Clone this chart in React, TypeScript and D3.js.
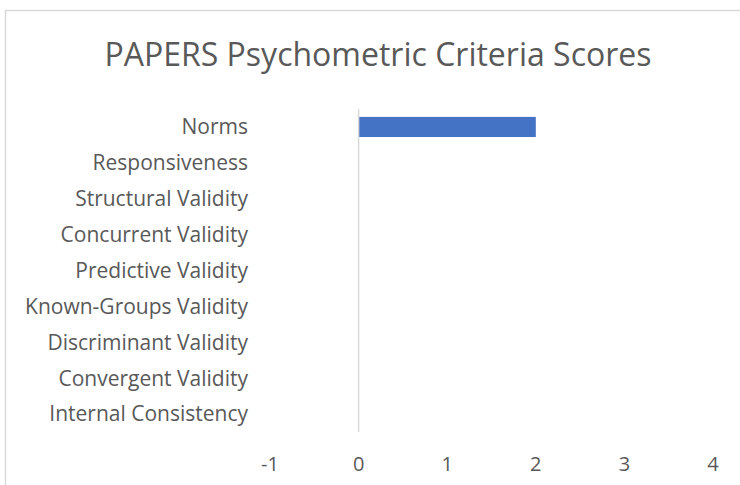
import React from 'react'
import * as d3 from 'd3'

const categories = [
	'Norms',
	'Responsiveness',
	'Structural Validity',
	'Concurrent Validity',
	'Predictive Validity',
	'Known-Groups Validity',
	'Discriminant Validity',
	'Convergent Validity',
	'Internal Consistency',
]
const scores = [2, 0, 0, 0, 0, 0, 0, 0, 0]
const xTicks = [-1, 0, 1, 2, 3, 4]

const W = 740
const H = 485
const font = '"Open Sans", sans-serif'

const App = () => {
	const x = d3.scaleLinear().domain([-1, 4]).range([270, 713])
	const y = d3.scaleBand().domain(categories).range([109, 432]).paddingInner(0.44).paddingOuter(0.22)

	return (
		<svg width={W} height={H} style={{ position: 'absolute', left: 0, top: 0 }}>
			<rect x={0} y={0} width={W} height={H} fill='#fff' />
			<path d={`M5.5,${H} V10.5 H${W}`} fill='none' stroke='#d9d9d9' strokeWidth={1.5} />
			<text x={378} y={66} textAnchor='middle' fontFamily={font} fontSize={32} fill='#595959'>
				PAPERS Psychometric Criteria Scores
			</text>
			{categories.map((c, i) => (
				<rect
					key={c}
					x={x(Math.min(0, scores[i]))}
					y={y(c)}
					width={Math.abs(x(scores[i]) - x(0))}
					height={y.bandwidth()}
					fill='#4472c4'
				/>
			))}
			<line x1={x(0)} x2={x(0)} y1={109} y2={432} stroke='#d9d9d9' strokeWidth={1.5} />
			{categories.map(c => (
				<text
					key={c}
					x={248}
					y={y(c) + y.bandwidth() / 2}
					dy='0.35em'
					textAnchor='end'
					fontFamily={font}
					fontSize={21}
					fill='#595959'
				>
					{c}
				</text>
			))}
			{xTicks.map(t => (
				<text key={t} x={x(t)} y={471} textAnchor='middle' fontFamily={font} fontSize={20} fill='#595959'>
					{t}
				</text>
			))}
		</svg>
	)
}

export default App
